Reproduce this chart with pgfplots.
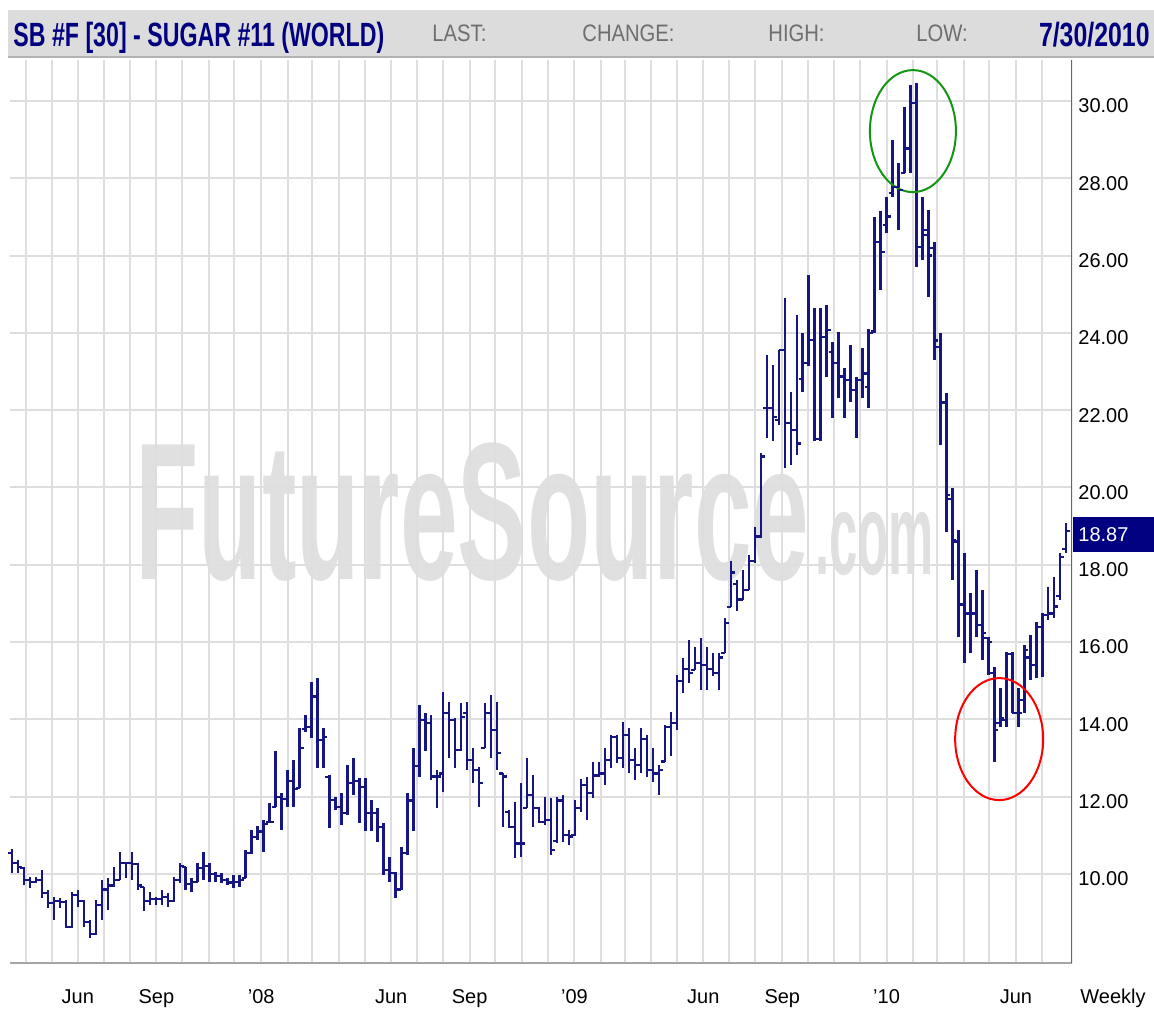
\documentclass[border=0pt]{standalone}
\usepackage{fontspec}
\setmainfont{Liberation Sans}
\usepackage{graphicx}
\usepackage{pgfplots}
\pgfplotsset{compat=1.18}
\usepackage{pgfplotstable}
\definecolor{barblue}{RGB}{22,22,130}
\definecolor{navy}{RGB}{0,0,128}
\definecolor{hdrgray}{RGB}{220,220,220}
\definecolor{lblgray}{RGB}{110,110,110}
\definecolor{gridgray}{RGB}{222,222,222}
\definecolor{wmgray}{RGB}{224,224,224}
\definecolor{circgreen}{RGB}{20,150,20}

\pgfdeclareplotmark{ltick}{\pgfpathmoveto{\pgfqpoint{-\pgfplotmarksize}{0pt}}\pgfpathlineto{\pgfqpoint{0pt}{0pt}}\pgfusepathqstroke}
\pgfdeclareplotmark{rtick}{\pgfpathmoveto{\pgfqpoint{0pt}{0pt}}\pgfpathlineto{\pgfqpoint{\pgfplotmarksize}{0pt}}\pgfusepathqstroke}

\pgfplotstableread{
i o h l c
0 10.55 10.64 10.03 10.29
1 10.29 10.36 10.03 10.19
2 10.15 10.19 9.72 9.85
3 9.85 9.93 9.63 9.80
4 9.80 9.93 9.76 9.85
5 9.85 10.10 9.37 9.50
6 9.50 9.59 9.11 9.24
7 9.24 9.41 8.81 9.30
8 9.30 9.37 9.11 9.28
9 9.28 9.33 8.59 8.62
10 8.62 9.54 8.59 9.45
11 9.45 9.59 9.15 9.30
12 9.30 9.33 8.64 8.75
13 8.75 8.81 8.34 8.45
14 8.45 9.33 8.42 9.20
15 9.20 9.85 8.81 9.60
16 9.60 9.89 9.07 9.70
17 9.70 10.19 9.67 9.85
18 9.85 10.58 9.85 10.28
19 10.28 10.32 9.89 10.28
20 10.28 10.58 9.85 10.25
21 10.25 10.28 9.59 9.70
22 9.67 9.67 9.03 9.30
23 9.30 9.54 9.20 9.35
24 9.35 9.41 9.20 9.35
25 9.35 9.59 9.20 9.40
26 9.40 9.50 9.15 9.30
27 9.30 9.93 9.28 9.85
28 9.85 10.28 9.76 10.20
29 10.19 10.19 9.59 9.75
30 9.75 9.89 9.54 9.80
31 9.80 10.28 9.80 10.15
32 10.15 10.58 9.85 10.20
33 10.20 10.28 9.80 10.00
34 10.00 10.06 9.80 9.95
35 9.95 10.02 9.76 9.85
36 9.85 9.89 9.72 9.78
37 9.78 9.97 9.63 9.80
38 9.80 9.97 9.67 9.85
39 9.89 10.62 9.89 10.55
40 10.55 11.14 10.53 10.95
41 10.95 11.25 10.88 11.10
42 11.10 11.40 10.58 11.30
43 11.35 11.83 11.31 11.35
44 11.74 13.17 11.74 12.00
45 12.00 12.09 11.14 11.95
46 11.95 12.69 11.74 12.40
47 12.40 12.95 11.74 12.20
48 12.22 13.77 12.22 13.25
49 13.75 14.11 13.68 13.81
50 13.81 14.98 13.51 14.59
51 14.59 15.06 12.74 13.47
52 13.47 13.77 12.74 13.55
53 12.50 12.56 11.18 11.91
54 11.91 12.00 11.66 11.74
55 11.74 12.09 11.27 11.57
56 11.57 12.82 11.53 12.35
57 12.35 12.99 12.04 12.40
58 12.40 12.48 11.31 12.26
59 12.26 12.48 11.10 11.57
60 11.57 11.91 11.10 11.57
61 11.57 11.70 10.84 11.22
62 11.22 11.31 9.97 10.10
63 10.10 10.45 9.80 10.02
64 10.02 10.06 9.37 9.60
65 9.60 10.71 9.59 10.54
66 10.54 12.09 10.49 11.90
67 11.90 13.25 11.10 12.80
68 12.80 14.37 12.52 13.99
69 13.99 14.16 13.17 13.90
70 13.90 14.11 12.43 12.52
71 12.52 12.69 11.70 12.52
72 12.60 14.72 12.13 14.16
73 14.16 14.46 12.99 13.99
74 13.99 14.03 12.73 13.21
75 13.21 14.42 13.17 14.07
76 14.16 14.46 12.69 12.95
77 12.95 13.25 12.35 12.69
78 12.69 12.78 11.74 12.35
79 13.25 14.42 13.25 14.16
80 14.16 14.63 13.00 13.73
81 13.73 14.46 12.69 13.12
82 12.60 12.60 11.22 12.52
83 11.60 11.66 11.18 11.22
84 11.22 11.87 10.41 10.79
85 10.79 12.35 10.45 10.79
86 11.70 12.99 11.70 12.04
87 12.04 12.56 11.22 11.70
88 11.70 11.74 11.31 11.35
89 11.35 12.00 11.27 11.40
90 11.40 11.96 10.49 10.62
91 10.85 12.00 10.79 11.90
92 11.90 12.04 10.84 11.00
93 11.00 11.14 10.75 10.97
94 11.00 11.91 10.97 11.70
95 11.70 12.47 11.61 12.30
96 12.30 12.52 11.40 12.10
97 12.10 12.90 11.96 12.55
98 12.55 12.90 12.52 12.60
99 12.60 13.25 12.30 12.95
100 12.95 13.60 12.73 13.55
101 13.55 13.60 12.86 13.00
102 13.00 13.94 12.73 13.60
103 13.60 13.77 12.60 12.95
104 12.95 13.25 12.43 12.82
105 12.82 13.77 12.60 13.50
106 13.50 13.60 12.52 12.70
107 12.70 13.25 12.39 12.60
108 12.60 12.82 12.04 12.70
109 12.91 13.86 12.91 13.80
110 13.80 14.20 13.04 13.90
111 13.90 15.15 13.73 15.00
112 15.00 15.58 14.68 15.30
113 15.30 16.05 14.93 15.20
114 15.28 15.88 15.28 15.45
115 15.45 16.10 14.76 15.40
116 15.40 15.88 14.76 15.30
117 15.30 15.71 15.11 15.20
118 15.20 15.71 14.76 15.60
119 15.71 16.62 15.71 16.50
120 16.90 18.10 16.90 17.80
121 17.50 17.60 16.80 17.10
122 17.10 17.87 17.09 17.35
123 17.35 18.25 17.35 18.10
124 18.10 18.99 18.04 18.73
125 18.73 20.89 18.69 20.80
126 22.05 23.43 21.27 22.05
127 22.05 23.17 21.19 21.83
128 21.75 23.56 21.62 23.56
129 23.56 24.89 20.50 21.66
130 21.66 22.48 20.58 21.49
131 21.49 24.46 20.84 21.14
132 22.80 23.99 22.48 23.21
133 23.21 25.50 23.13 23.82
134 23.82 24.64 21.19 21.25
135 21.25 24.64 21.19 23.90
136 23.90 24.72 22.87 24.08
137 23.50 23.77 21.79 23.21
138 23.21 24.03 22.31 22.87
139 22.87 23.08 21.79 22.78
140 22.78 23.69 22.22 22.52
141 22.52 22.87 21.27 22.78
142 22.78 23.60 22.31 22.95
143 22.60 24.10 22.05 23.99
144 24.05 27.01 23.99 26.36
145 26.36 27.14 25.11 26.10
146 26.80 27.52 26.58 27.01
147 27.61 28.99 27.52 27.78
148 27.78 28.39 26.66 27.70
149 28.13 29.85 28.13 28.77
150 28.77 30.41 28.13 29.94
151 29.94 30.46 25.71 26.23
152 26.23 27.52 25.88 26.53
153 26.66 27.18 24.94 26.00
154 26.20 26.36 23.30 23.80
155 23.64 23.99 21.10 22.18
156 22.20 22.44 18.86 19.80
157 19.70 19.98 17.61 18.64
158 18.60 18.90 16.14 16.97
159 16.97 18.30 15.45 16.74
160 16.74 17.26 15.71 16.74
161 16.74 17.86 16.14 16.44
162 16.44 17.34 15.53 16.23
163 16.10 16.14 15.15 16.00
164 15.20 15.36 12.91 13.73
165 13.90 14.80 13.81 14.03
166 13.98 15.75 13.81 15.70
167 15.70 15.75 14.16 14.16
168 14.16 14.80 13.81 14.16
169 14.50 15.92 14.16 15.80
170 15.60 16.18 15.02 15.40
171 15.41 16.53 15.06 16.40
172 16.40 16.74 15.10 16.70
173 16.70 17.43 16.57 16.74
174 16.74 17.69 16.61 16.92
175 17.20 18.30 17.09 18.20
176 18.40 19.07 18.30 18.87
}\ohlc

\begin{document}
\begin{tikzpicture}
\path[use as bounding box] (0,0) rectangle (577pt,505pt);
% header bar
\fill[hdrgray] (4pt,476pt) rectangle (577pt,500pt);
\draw[gray!60, line width=0.8pt] (4pt,476.4pt) -- (577pt,476.4pt);
\node[anchor=base west, inner sep=0, text=navy] at (6.5pt,481.5pt)
  {\scalebox{0.69}[1]{\fontsize{16.8}{18}\selectfont\bfseries SB \#F [30] - SUGAR \#11 (WORLD)}};
\node[anchor=base west, inner sep=0, text=lblgray] at (216pt,484pt)
  {\scalebox{0.85}[1]{\fontsize{11.9}{13}\selectfont LAST:}};
\node[anchor=base west, inner sep=0, text=lblgray] at (291pt,484pt)
  {\scalebox{0.85}[1]{\fontsize{11.9}{13}\selectfont CHANGE:}};
\node[anchor=base west, inner sep=0, text=lblgray] at (384pt,484pt)
  {\scalebox{0.85}[1]{\fontsize{11.9}{13}\selectfont HIGH:}};
\node[anchor=base west, inner sep=0, text=lblgray] at (458pt,484pt)
  {\scalebox{0.85}[1]{\fontsize{11.9}{13}\selectfont LOW:}};
\node[anchor=base east, inner sep=0, text=navy] at (575pt,481.5pt)
  {\scalebox{0.74}[1]{\fontsize{16.8}{18}\selectfont\bfseries 7/30/2010}};
% watermark
\node[anchor=base west, inner sep=0, text=wmgray] at (67.5pt,215pt)
  {\scalebox{0.53}[1]{\fontsize{97.8}{100}\selectfont\bfseries FutureSource}};
\node[anchor=base west, inner sep=0, text=wmgray] at (407.5pt,217.5pt)
  {\scalebox{0.44}[1]{\fontsize{57.8}{60}\selectfont\bfseries .com}};
\begin{axis}[
  at={(5pt,23.5pt)}, anchor=south west, scale only axis,
  width=531pt, height=451.5pt,
  xmin=-0.33, xmax=176.96, ymin=7.697, ymax=31.06,
  axis line style={draw=none},
  major tick length=0pt,
  xtick={2.3,6.6,11.0,15.3,19.7,24.1,28.4,32.9,37.1,41.6,46.0,50.1,54.6,58.9,63.3,67.6,72.0,76.4,80.7,85.1,89.4,93.9,98.3,102.3,106.7,111.0,115.4,119.7,124.1,128.6,132.9,137.3,141.6,146.0,150.4,154.4,158.9,163.1,167.6,171.9},
  xticklabels={,,Jun,,,Sep,,,,'08,,,,,Jun,,,Sep,,,,'09,,,,,Jun,,,Sep,,,,'10,,,,,Jun,},
  ytick={10,12,14,16,18,20,22,24,26,28,30},
  yticklabels={10.00,12.00,14.00,16.00,18.00,20.00,22.00,24.00,26.00,28.00,30.00},
  yticklabel pos=right,
  tick label style={font=\fontsize{10}{12}\selectfont},
  yticklabel style={anchor=west, inner sep=0pt, xshift=3pt, yshift=-2.5pt},
  xticklabel style={anchor=base, inner sep=0pt, yshift=-20pt},
  grid=major, grid style={gridgray, line width=1pt},
]
\addplot[draw=none, mark=none, forget plot,
  error bars/.cd, y dir=both, y explicit, error mark=none,
  error bar style={draw=barblue, line width=1.2pt}]
  table[x=i, y=c, y error plus expr=\thisrow{h}-\thisrow{c}, y error minus expr=\thisrow{c}-\thisrow{l}] {\ohlc};
\addplot[draw=none, mark=ltick, mark size=2pt, mark options={draw=barblue, line width=1.1pt}, forget plot]
  table[x=i, y=o] {\ohlc};
\addplot[draw=none, mark=rtick, mark size=2pt, mark options={draw=barblue, line width=1.1pt}, forget plot]
  table[x=i, y=c] {\ohlc};
\draw[red, line width=1pt] (axis cs:164.8,13.49) ellipse [x radius=22pt, y radius=30.5pt];
\draw[circgreen, line width=1pt] (axis cs:150.4,29.22) ellipse [x radius=21.5pt, y radius=30.5pt];
\draw[gray!70, line width=1.2pt] (rel axis cs:0,0) -- (rel axis cs:1,0);
\draw[gray!80!black, line width=1pt] (rel axis cs:1,0) -- (rel axis cs:1,1);
\end{axis}
% last value box
\fill[navy] (536.5pt,229pt) rectangle (577pt,246.5pt);
\node[anchor=west, inner sep=0, text=white] at (539pt,237.75pt) {\fontsize{10}{12}\selectfont 18.87};
\node[anchor=base west, inner sep=0] at (540pt,3.5pt) {\fontsize{10}{12}\selectfont Weekly};
\end{tikzpicture}
\end{document}
